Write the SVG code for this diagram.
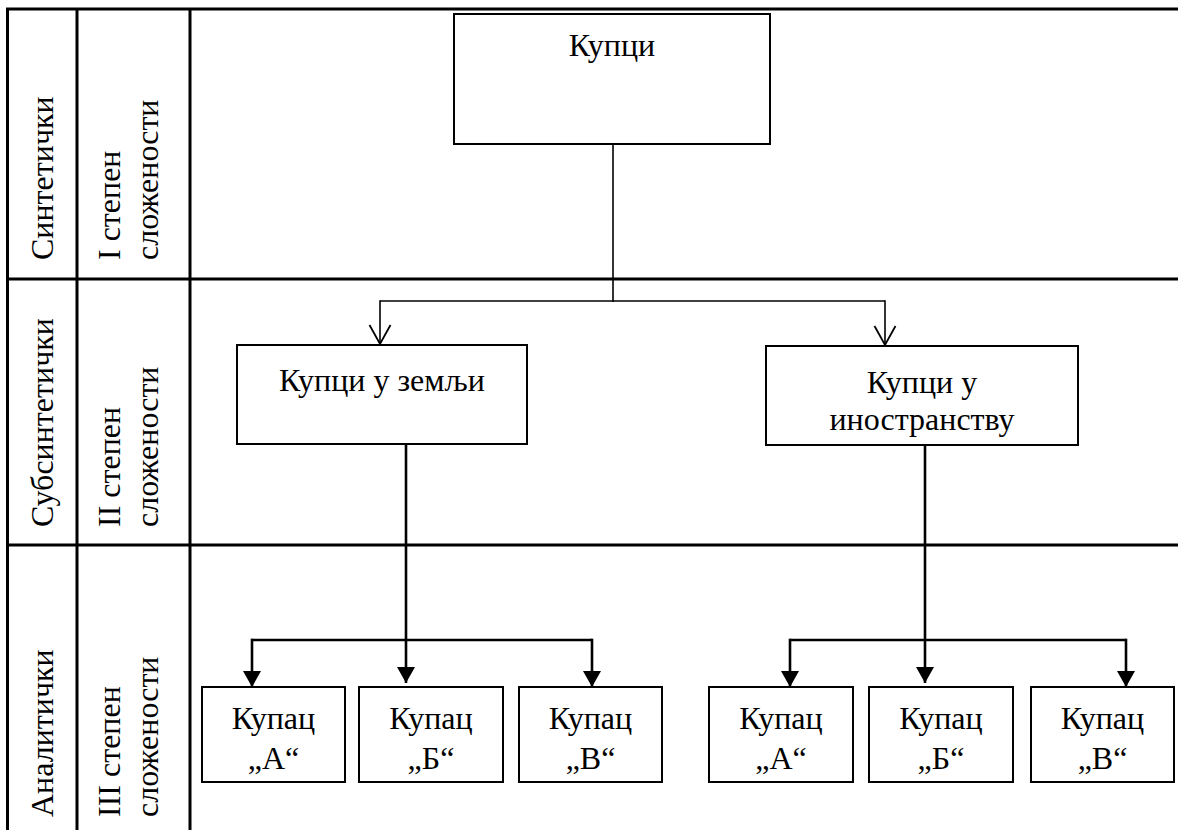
<svg xmlns="http://www.w3.org/2000/svg" width="1178" height="830" viewBox="0 0 1178 830">
<style>
.t{font-family:"Liberation Serif","Times New Roman",serif;font-size:32px;fill:#000}
.c{text-anchor:middle}
.box{fill:#fff;stroke:#000;stroke-width:2}
.grid{stroke:#000;stroke-width:3;fill:none}
.thin{stroke:#000;stroke-width:1.6;fill:none}
.thick{stroke:#000;stroke-width:2.6;fill:none}
</style>
<defs>
<marker id="open" markerUnits="userSpaceOnUse" markerWidth="24" markerHeight="24" viewBox="0 0 20 24" refX="19" refY="12" orient="auto">
<path d="M0,1.5 L19,12 L0,22.5" fill="none" stroke="#000" stroke-width="1.8"/>
</marker>
<marker id="fill" markerUnits="userSpaceOnUse" markerWidth="18" markerHeight="18" viewBox="0 0 16 18" refX="16" refY="9" orient="auto">
<path d="M0,0 L16,9 L0,18 z" fill="#000"/>
</marker>
</defs>
<rect width="1178" height="830" fill="#fff"/>
<g id="table">
<line class="grid" x1="6" y1="9" x2="1178" y2="9"/>
<line class="grid" x1="6" y1="279" x2="1178" y2="279"/>
<line class="grid" x1="6" y1="545" x2="1178" y2="545"/>
<line class="grid" x1="7.5" y1="8" x2="7.5" y2="830"/>
<line class="grid" x1="77" y1="8" x2="77" y2="830"/>
<line class="grid" x1="190" y1="8" x2="190" y2="830"/>
</g>
<g id="row-labels">
<text class="t" transform="translate(53,260) rotate(-90)">Синтетички</text>
<text class="t" transform="translate(120,260) rotate(-90)">I степен</text>
<text class="t" transform="translate(158,260) rotate(-90)">сложености</text>
<text class="t" transform="translate(53,527) rotate(-90)">Субсинтетички</text>
<text class="t" transform="translate(120,527) rotate(-90)">II степен</text>
<text class="t" transform="translate(158,527) rotate(-90)">сложености</text>
<text class="t" transform="translate(53,817) rotate(-90)">Аналитички</text>
<text class="t" transform="translate(120,817) rotate(-90)">III степен</text>
<text class="t" transform="translate(158,817) rotate(-90)">сложености</text>
</g>
<g id="connectors">
<line class="thin" x1="613" y1="144" x2="613" y2="302"/>
<line class="thin" x1="380" y1="301" x2="885" y2="301"/>
<line class="thin" x1="380" y1="300.2" x2="380" y2="344" marker-end="url(#open)"/>
<line class="thin" x1="885" y1="300.2" x2="885" y2="345" marker-end="url(#open)"/>
<line class="thick" x1="406" y1="444" x2="406" y2="683" marker-end="url(#fill)"/>
<line class="thick" x1="252" y1="640" x2="592" y2="640"/>
<line class="thick" x1="252" y1="638.7" x2="252" y2="687" marker-end="url(#fill)"/>
<line class="thick" x1="592" y1="638.7" x2="592" y2="687" marker-end="url(#fill)"/>
<line class="thick" x1="925" y1="446" x2="925" y2="683" marker-end="url(#fill)"/>
<line class="thick" x1="790" y1="640" x2="1126" y2="640"/>
<line class="thick" x1="790" y1="638.7" x2="790" y2="687" marker-end="url(#fill)"/>
<line class="thick" x1="1126" y1="638.7" x2="1126" y2="687" marker-end="url(#fill)"/>
</g>
<g id="n-kupci">
<rect class="box" x="454" y="14" width="316" height="130"/>
<text class="t c" x="612" y="56">Купци</text>
</g>
<g id="n-zemlja">
<rect class="box" x="237" y="345" width="290" height="99"/>
<text class="t c" x="382" y="391">Купци у земљи</text>
</g>
<g id="n-inostranstvo">
<rect class="box" x="766" y="346" width="312" height="99"/>
<text class="t c" x="922" y="393">Купци у</text>
<text class="t c" x="922" y="430">иностранству</text>
</g>
<g id="n-l-a">
<rect class="box" x="202" y="687" width="143" height="95"/>
<text class="t c" x="273.5" y="729">Купац</text>
<text class="t c" x="273.5" y="769">„А“</text>
</g>
<g id="n-l-b">
<rect class="box" x="359" y="687" width="144" height="95"/>
<text class="t c" x="431" y="729">Купац</text>
<text class="t c" x="431" y="769">„Б“</text>
</g>
<g id="n-l-v">
<rect class="box" x="519" y="687" width="143" height="95"/>
<text class="t c" x="590.5" y="729">Купац</text>
<text class="t c" x="590.5" y="769">„В“</text>
</g>
<g id="n-r-a">
<rect class="box" x="709" y="687" width="144" height="95"/>
<text class="t c" x="781" y="729">Купац</text>
<text class="t c" x="781" y="769">„А“</text>
</g>
<g id="n-r-b">
<rect class="box" x="869" y="687" width="144" height="95"/>
<text class="t c" x="941" y="729">Купац</text>
<text class="t c" x="941" y="769">„Б“</text>
</g>
<g id="n-r-v">
<rect class="box" x="1031" y="687" width="143" height="95"/>
<text class="t c" x="1102.5" y="729">Купац</text>
<text class="t c" x="1102.5" y="769">„В“</text>
</g>
</svg>
